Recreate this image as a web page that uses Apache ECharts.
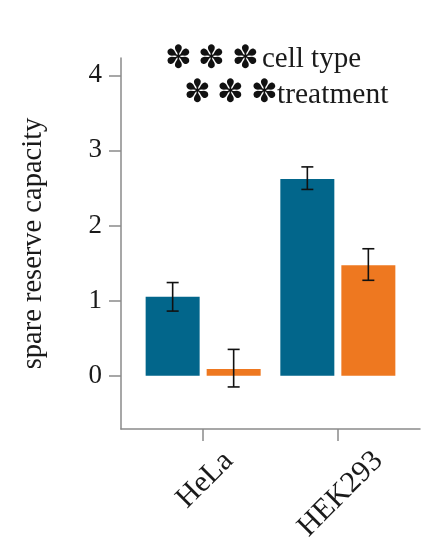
<!DOCTYPE html>
<html>
<head>
<meta charset="utf-8">
<script src="https://cdn.jsdelivr.net/npm/echarts@6/dist/echarts.min.js"></script>
<style>
html, body { margin: 0; padding: 0; background: #fff; }
#main { width: 421px; height: 549px; }
</style>
</head>
<body>
<div id="main"></div>
<script>
// values
var cellTypes = ['HeLa', 'HEK293'];
var controlMean = [1.05, 2.62];
var controlLow = [0.86, 2.48];
var controlHigh = [1.24, 2.78];
var treatedMean = [0.09, 1.47];
var treatedLow = [-0.15, 1.27];
var treatedHigh = [0.35, 1.69];
var yTicks = [0, 1, 2, 3, 4];
var xPos = [1, 2];

var FONT = '"Liberation Serif", "Times New Roman", serif';
var BLUE = '#02668b';
var ORANGE = '#ee7820';

function pairs(means) {
  return xPos.map(function (x, i) { return [x, means[i]]; });
}
function triples(lo, hi) {
  return xPos.map(function (x, i) { return [x, lo[i], hi[i]]; });
}

// draws whisker with caps, shifted to sit on its bar
function errorBars(offset) {
  return function (params, api) {
    var lo = api.coord([api.value(0), api.value(1)]);
    var hi = api.coord([api.value(0), api.value(2)]);
    var x = lo[0] + offset, c = 6;
    var st = { stroke: '#111', lineWidth: 1.6 };
    return {
      type: 'group',
      children: [
        { type: 'line', shape: { x1: x, y1: lo[1], x2: x, y2: hi[1] }, style: st },
        { type: 'line', shape: { x1: x - c, y1: hi[1], x2: x + c, y2: hi[1] }, style: st },
        { type: 'line', shape: { x1: x - c, y1: lo[1], x2: x + c, y2: lo[1] }, style: st }
      ]
    };
  };
}

var axisGray = { color: '#8a8a8a', width: 1.5 };
var star = '32px "DejaVu Sans"';

// tilted labels hang centred under their tick, so longer ones sit further right
var labelRich = {
  l0: { fontFamily: FONT, fontSize: 30, color: '#1a1a1a', padding: [31.6, 10.6, 0, 0] },
  l1: { fontFamily: FONT, fontSize: 30, color: '#1a1a1a', padding: [42.2, 0, 0, 0] }
};

var chart = echarts.init(document.getElementById('main'));
chart.setOption({
  animation: false,
  backgroundColor: '#fff',
  grid: { left: 121, right: 1, top: 58, bottom: 120 },
  xAxis: {
    type: 'value',
    min: 0.39,
    max: 2.61,
    splitLine: { show: false },
    axisLine: { show: true, onZero: false, lineStyle: axisGray },
    axisTick: { show: true, length: 12, customValues: xPos, lineStyle: axisGray },
    axisLabel: {
      customValues: xPos,
      rotate: 45,
      align: 'right',
      verticalAlign: 'top',
      margin: -13,
      fontFamily: FONT,
      fontSize: 30,
      color: '#1a1a1a',
      rich: labelRich,
      formatter: function (v) {
        var i = Math.round(v) - 1;
        return '{l' + i + '|' + cellTypes[i] + '}';
      }
    }
  },
  yAxis: {
    type: 'value',
    min: -0.71,
    max: 4.23,
    name: 'spare reserve capacity',
    nameLocation: 'middle',
    nameRotate: 90,
    nameGap: 73,
    nameTextStyle: { fontFamily: FONT, fontSize: 28.5, color: '#1a1a1a' },
    splitLine: { show: false },
    axisLine: { show: true, onZero: false, lineStyle: axisGray },
    axisTick: { show: true, length: 12, customValues: yTicks, lineStyle: axisGray },
    axisLabel: {
      customValues: yTicks,
      margin: 19,
      fontFamily: FONT,
      fontSize: 27,
      color: '#1a1a1a'
    }
  },
  series: [
    {
      name: 'control',
      type: 'bar',
      barWidth: 54,
      barGap: '13%',
      itemStyle: { color: BLUE },
      data: pairs(controlMean)
    },
    {
      name: 'treated',
      type: 'bar',
      barWidth: 54,
      barGap: '13%',
      itemStyle: { color: ORANGE },
      data: pairs(treatedMean)
    },
    {
      type: 'custom',
      renderItem: errorBars(-30.5),
      encode: { x: 0, y: [1, 2] },
      z: 5,
      data: triples(controlLow, controlHigh)
    },
    {
      type: 'custom',
      renderItem: errorBars(30.5),
      encode: { x: 0, y: [1, 2] },
      z: 5,
      data: triples(treatedLow, treatedHigh)
    }
  ],
  graphic: [
    { type: 'text', left: 165, top: 44, style: { text: '✽', font: star, fill: '#111' } },
    { type: 'text', left: 198, top: 44, style: { text: '✽', font: star, fill: '#111' } },
    { type: 'text', left: 232, top: 44, style: { text: '✽', font: star, fill: '#111' } },
    { type: 'text', left: 262, top: 45, style: { text: 'cell type', font: '29px ' + FONT, fill: '#1a1a1a' } },
    { type: 'text', left: 184, top: 78, style: { text: '✽', font: star, fill: '#111' } },
    { type: 'text', left: 217, top: 78, style: { text: '✽', font: star, fill: '#111' } },
    { type: 'text', left: 251, top: 78, style: { text: '✽', font: star, fill: '#111' } },
    { type: 'text', left: 277, top: 80, style: { text: 'treatment', font: '29.5px ' + FONT, fill: '#1a1a1a' } }
  ]
});
</script>
</body>
</html>
